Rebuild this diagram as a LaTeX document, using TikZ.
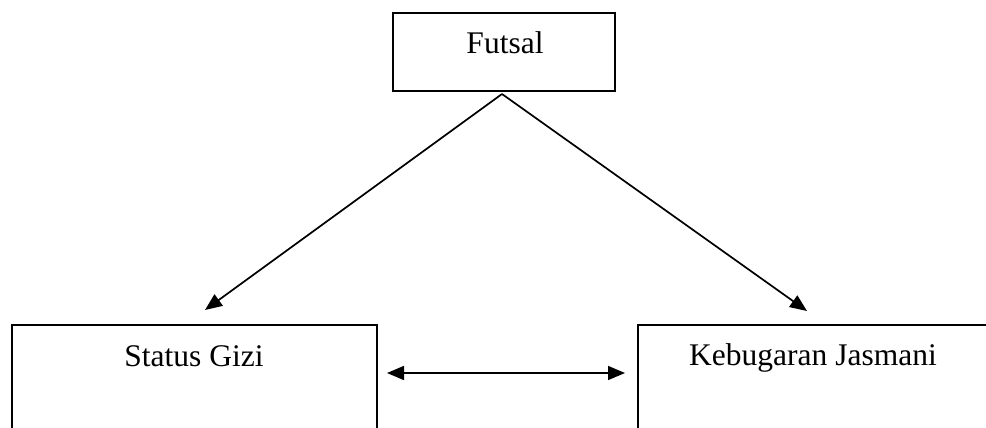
\documentclass[tikz,border=0pt]{standalone}
\usepackage{fontspec}
\setmainfont{Liberation Serif}
\usetikzlibrary{arrows.meta}
\begin{document}
\begin{tikzpicture}[x=1pt,y=-1pt,
  box/.style={draw,line width=2pt,inner sep=0pt,outer sep=0pt},
  lbl/.style={inner sep=0pt,anchor=base,font=\fontsize{31.5}{36}\selectfont},
  conn/.style={line width=1.7pt,-{Triangle[length=17pt,width=14pt]}},
  dconn/.style={line width=1.7pt,{Triangle[length=17pt,width=14pt]}-{Triangle[length=17pt,width=14pt]}}]
\useasboundingbox (0,0) rectangle (986,428);
\clip (0,0) rectangle (986,428);
\node[box,minimum width=222pt,minimum height=78pt] (futsal) at (504,52) {};
\node[box,minimum width=365pt,minimum height=140pt] (sg) at (194.5,395) {};
\node[box,minimum width=400pt,minimum height=140pt] (kj) at (838,395) {};
\node[lbl] (futsaltxt) at (505,54) {Futsal};
\node[lbl] (sgtxt) at (194,366) {Status Gizi};
\node[lbl] (kjtxt) at (813,365) {Kebugaran Jasmani};
\coordinate (apex) at (502,94);
\coordinate (tl) at (205,310);
\coordinate (tr) at (807,311);
\coordinate (al) at (387,373);
\coordinate (ar) at (625,373);
\draw[conn] (apex) -- (tl);
\draw[conn] (apex) -- (tr);
\draw[dconn] (al) -- (ar);
\end{tikzpicture}
\end{document}
